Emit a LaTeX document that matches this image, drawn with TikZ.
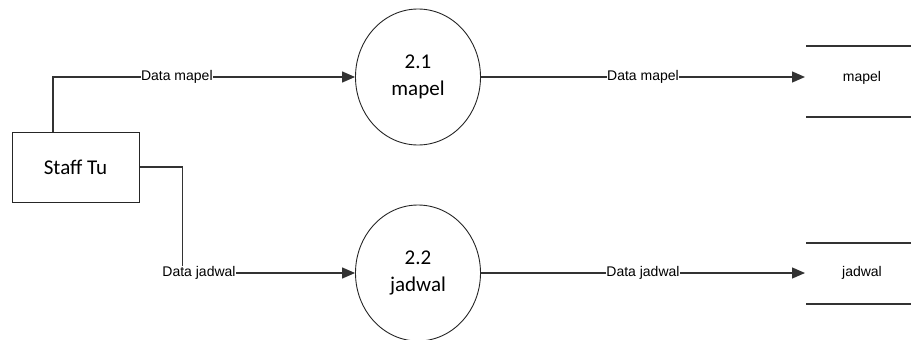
\documentclass[tikz,border=0pt]{standalone}
\usepackage{fontspec}
\setmainfont{Carlito}
\newfontfamily\labelfont{Liberation Sans}
\usetikzlibrary{shapes.geometric,arrows.meta}
\begin{document}
\begin{tikzpicture}[x=1pt,y=-1pt,
  flow/.style={draw=black!80,line width=1.3pt,-{Triangle[length=13pt,width=11pt]}},
  plain/.style={draw=black!80,line width=1.3pt},
  flowlabel/.style={fill=white,inner sep=0.5pt,font=\labelfont\fontsize{14}{16}\selectfont},
  process/.style={ellipse,draw=black!85,line width=0.9pt,minimum width=125pt,minimum height=136pt,
    align=center,font=\fontsize{21}{27}\selectfont},
  entity/.style={draw=black!85,line width=1pt,minimum width=127pt,minimum height=70pt,
    font=\fontsize{21}{24}\selectfont},
  storetext/.style={font=\labelfont\fontsize{14}{16}\selectfont},
  storeline/.style={draw=black!80,line width=1.5pt}]
\useasboundingbox (0,0) rectangle (911,340);

% external entity
\node[entity] (staff) at (75.5,167) {Staff Tu};

% processes
\node[process] (p1) at (418,77) {2.1\\mapel};
\node[process] (p2) at (418,273) {2.2\\jadwal};

% data stores
\coordinate (s1a) at (806,46);  \coordinate (s1b) at (911,46);
\coordinate (s1c) at (806,117); \coordinate (s1d) at (911,117);
\draw[storeline] (s1a) -- (s1b);
\draw[storeline] (s1c) -- (s1d);
\node[storetext] (store1) at (862,78) {mapel};
\coordinate (store1in) at (805,77);

\coordinate (s2a) at (806,243); \coordinate (s2b) at (911,243);
\coordinate (s2c) at (806,304); \coordinate (s2d) at (911,304);
\draw[storeline] (s2a) -- (s2b);
\draw[storeline] (s2c) -- (s2d);
\node[storetext] (store2) at (862,273) {jadwal};
\coordinate (store2in) at (805,273);

% flows from the entity to the processes
\coordinate (up) at (53,132);
\coordinate (upcorner) at (53,77);
\draw[flow] (up) -- (upcorner) -- (p1.west)
  node[flowlabel,pos=0.41] (l1) {Data mapel};

\coordinate (rcorner) at (182.5,167);
\coordinate (dcorner) at (182.5,273);
\draw[plain] (staff.east) -- (rcorner) -- (dcorner);
\draw[flow] (dcorner) -- (p2.west);
\node[flowlabel] (l2) at (199,273) {Data jadwal};

% flows from the processes to the stores
\draw[flow] (p1.east) -- (store1in)
  node[flowlabel,pos=0.5] (l3) {Data mapel};
\draw[flow] (p2.east) -- (store2in)
  node[flowlabel,pos=0.5] (l4) {Data jadwal};
\end{tikzpicture}
\end{document}
